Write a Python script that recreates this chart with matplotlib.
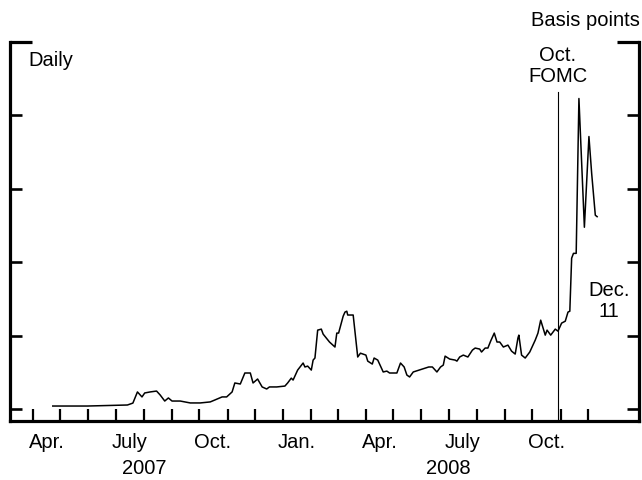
import numpy as np
import pandas as pd
import matplotlib
matplotlib.use("Agg")
import matplotlib.pyplot as plt
import matplotlib.dates as mdates
import matplotlib.transforms as mtransforms

plt.rcParams['font.family'] = ['Liberation Sans', 'DejaVu Sans']
plt.rcParams['font.size'] = 14.5

# spread, basis points (roughly every few days)
dates = pd.to_datetime([
    '2007-04-23', '2007-05-31', '2007-07-14', '2007-07-20', '2007-07-25', '2007-07-30',
    '2007-08-02', '2007-08-08', '2007-08-15', '2007-08-19', '2007-08-24', '2007-08-28',
    '2007-09-01', '2007-09-10', '2007-09-21', '2007-10-02', '2007-10-13', '2007-10-18',
    '2007-10-26', '2007-10-31', '2007-11-06', '2007-11-09', '2007-11-15', '2007-11-20',
    '2007-11-26', '2007-11-29', '2007-12-04', '2007-12-09', '2007-12-14', '2007-12-17',
    '2007-12-25', '2008-01-03', '2008-01-06', '2008-01-10', '2008-01-12', '2008-01-17',
    '2008-01-23', '2008-01-25', '2008-01-28', '2008-02-01', '2008-02-03', '2008-02-05',
    '2008-02-08', '2008-02-12', '2008-02-14', '2008-02-21', '2008-02-27', '2008-02-29',
    '2008-03-02', '2008-03-07', '2008-03-09', '2008-03-11', '2008-03-12', '2008-03-18',
    '2008-03-23', '2008-03-26', '2008-04-01', '2008-04-03', '2008-04-08', '2008-04-10',
    '2008-04-14', '2008-04-20', '2008-04-24', '2008-04-27', '2008-05-05', '2008-05-09',
    '2008-05-13', '2008-05-16', '2008-05-19', '2008-05-23', '2008-06-02', '2008-06-09',
    '2008-06-13', '2008-06-18', '2008-06-22', '2008-06-25', '2008-06-27', '2008-07-02',
    '2008-07-08', '2008-07-10', '2008-07-13', '2008-07-17', '2008-07-22', '2008-07-27',
    '2008-07-30', '2008-08-04', '2008-08-06', '2008-08-10', '2008-08-13', '2008-08-16',
    '2008-08-20', '2008-08-23', '2008-08-26', '2008-08-30', '2008-09-04', '2008-09-08',
    '2008-09-12', '2008-09-15', '2008-09-16', '2008-09-19', '2008-09-23', '2008-09-28',
    '2008-10-04', '2008-10-07', '2008-10-10', '2008-10-15', '2008-10-17', '2008-10-21',
    '2008-10-26', '2008-10-29', '2008-11-02', '2008-11-06', '2008-11-09', '2008-11-11',
    '2008-11-13', '2008-11-15', '2008-11-18', '2008-11-21', '2008-11-27', '2008-12-02',
    '2008-12-05', '2008-12-09', '2008-12-11',
])
spread = [
    2.0, 2.0, 2.7, 4.0, 11.6, 8.2,
    10.9, 11.6, 12.2, 9.5, 5.4, 7.5,
    5.4, 5.4, 4.1, 4.1, 4.8, 6.1,
    8.2, 8.2, 11.6, 17.7, 17.0, 24.5,
    24.5, 17.7, 20.4, 15.0, 13.6, 15.0,
    15.0, 15.6, 17.7, 21.0, 19.7, 26.5,
    31.3, 28.6, 29.2, 26.5, 33.3, 34.7,
    53.7, 54.4, 51.0, 45.6, 42.2, 51.7,
    51.7, 63.2, 66.0, 66.6, 64.0, 64.0,
    35.4, 38.0, 36.7, 32.6, 30.6, 34.7,
    33.3, 25.2, 25.8, 24.5, 24.5, 31.3,
    28.6, 23.1, 21.8, 25.2, 27.2, 28.6,
    28.6, 25.2, 28.6, 29.9, 36.0, 34.0,
    33.3, 32.6, 35.4, 36.7, 35.4, 40.1,
    41.5, 40.8, 38.8, 41.5, 41.5, 46.2,
    51.7, 45.6, 45.6, 42.2, 43.5, 39.4,
    37.4, 48.3, 50.3, 36.7, 34.7, 38.8,
    46.9, 51.7, 60.5, 50.3, 53.7, 50.3,
    54.4, 53.0, 58.5, 59.8, 66.0, 66.6,
    102.7, 106.0, 106.0, 211.5, 123.8, 185.6,
    160.5, 132.0, 131.0,
]

fomc_date = pd.Timestamp('2008-10-29')
month_ticks = pd.date_range('2007-04-01', '2008-12-01', freq='MS')
label_pos = pd.to_datetime(['2007-04-16', '2007-07-16', '2007-10-16', '2008-01-16',
                            '2008-04-16', '2008-07-16', '2008-10-16'])
label_txt = ['Apr.', 'July', 'Oct.', 'Jan.', 'Apr.', 'July', 'Oct.']
years = ['2007', '2008']
year_pos = pd.to_datetime(['2007-08-01', '2008-07-01'])

fig = plt.figure(figsize=(6.42, 4.8), dpi=100)
ax = fig.add_axes([10/642, 59/480, 629/642, 379/480])

ax.plot(dates, spread, color='black', lw=1.1)
ax.axvline(fomc_date, ymin=0, ymax=0.868, color='black', lw=0.8)

ax.set_xlim(pd.Timestamp('2007-03-07'), pd.Timestamp('2009-01-26'))
ax.set_ylim(-8.2, 250)

for s in ['left', 'right', 'bottom']:
    ax.spines[s].set_linewidth(2.3)
ax.spines['top'].set_visible(False)

# y ticks, no labels
ax.set_yticks([0, 50, 100, 150, 200])
ax.set_yticks([250], minor=True)
ax.tick_params(axis='y', which='major', direction='in', left=True, right=True,
               length=8.5, width=1.9, labelleft=False)
ax.tick_params(axis='y', which='minor', direction='in', left=True, right=True,
               length=15.5, width=2.3, labelleft=False)

# x: month ticks, labels at mid-month
ax.set_xticks(month_ticks)
ax.set_xticks(label_pos, minor=True)
ax.set_xticklabels(label_txt, minor=True)
ax.tick_params(axis='x', which='major', direction='in', length=9, width=1.6,
               labelbottom=False)
ax.tick_params(axis='x', which='minor', length=0, pad=8.5, labelsize=14.5)

trans = mtransforms.blended_transform_factory(ax.transData, ax.transAxes)
for yr, pos in zip(years, year_pos):
    ax.text(pos, -0.126, yr, transform=trans, ha='center', va='center')

ax.text(0.0286, 0.9525, 'Daily', transform=ax.transAxes, ha='left', va='center')
ax.text(fomc_date, 0.937, 'Oct.\nFOMC', transform=trans, ha='center', va='center',
        multialignment='center', linespacing=1.1)
ax.text(pd.Timestamp('2008-12-24'), 0.317, 'Dec.\n11', transform=trans, ha='center',
        va='center', multialignment='center', linespacing=1.1)
fig.text(640/642, 1 - 20/480, 'Basis points', ha='right', va='center')

fig.savefig('out.png', dpi=100)
